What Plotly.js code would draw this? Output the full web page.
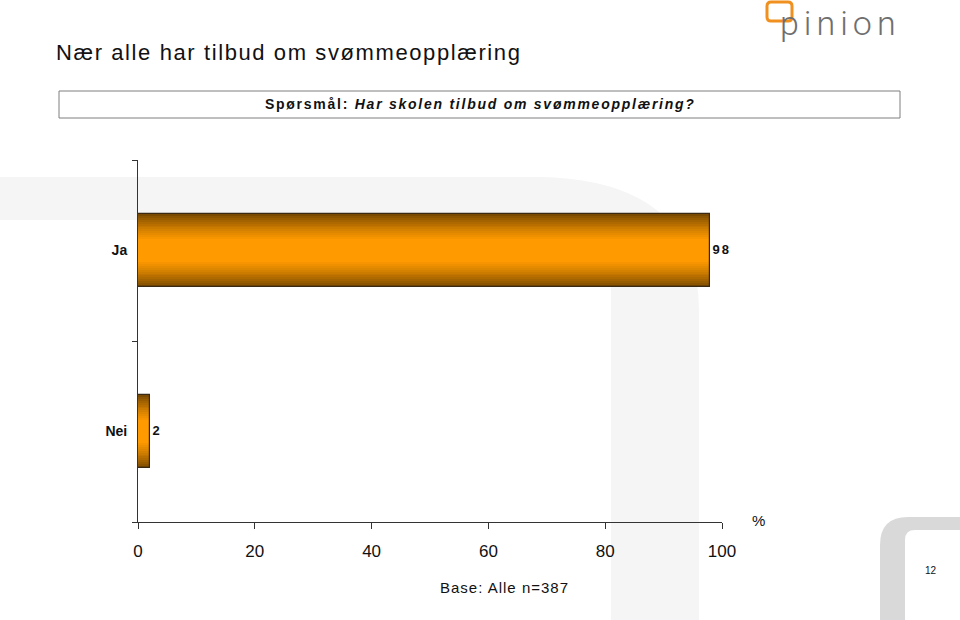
<!DOCTYPE html>
<html>
<head>
<meta charset="utf-8">
<script src="https://cdn.plot.ly/plotly-3.0.1.min.js"></script>
<style>
  html, body { margin: 0; padding: 0; background: #fff; overflow: hidden; }
  #chart { width: 960px; height: 620px; }
  g.annotation[data-index="0"] text { letter-spacing: 1.6px; }
  g.annotation[data-index="1"] text { letter-spacing: 1.75px; }
  g.annotation[data-index="3"] text { letter-spacing: 1.0px; }
  g.annotation[data-index="5"] text { letter-spacing: 5px; }
  .bartext { letter-spacing: 2px; }
</style>
</head>
<body>
<div id="chart"></div>
<script>
// ---- data ----
const categories = ["Ja", "Nei"];
const values = [98, 2];
const valueLabels = ["98", "2"];
const xTicks = [0, 20, 40, 60, 80, 100];
const xTickLabels = ["0", "20", "40", "60", "80", "100"];
const categoryOrder = ["Nei", "Ja"];

const titleText = "Nær alle har tilbud om svømmeopplæring";
const questionText = "<b>Spørsmål:</b> <b><i>Har skolen tilbud om svømmeopplæring?</i></b>";
const baseText = "Base: Alle n=387";
const unitText = "%";
const pageText = "12";

const FONT = "Liberation Sans, Arial, sans-serif";

// ---- layout geometry (pixels) ----
const W = 960, H = 620;
const L = 138, R = 722, T = 160, B = 522;
const pw = R - L, ph = B - T;
const px = x => (x - L) / pw;
const py = y => (B - y) / ph;

function pathFrom(cmds) {
  return cmds.map(c => {
    const op = c[0];
    const nums = c.slice(1);
    const out = [];
    for (let i = 0; i < nums.length; i += 2) {
      out.push(px(nums[i]).toFixed(5) + "," + py(nums[i + 1]).toFixed(5));
    }
    return op + " " + out.join(" ");
  }).join(" ") + " Z";
}

// ---- bar gradient layers ----
const barWidth = 0.4;
const edgeColor = [122, 74, 0];
const centerColor = [255, 154, 0];
const nLayers = 14;
const innerWidth = 0.13;
const traces = [];
for (let i = 0; i < nLayers; i++) {
  const t = i / (nLayers - 1);
  const w = barWidth - (barWidth - innerWidth) * t;
  const c = edgeColor.map((e, k) => Math.round(e + (centerColor[k] - e) * Math.pow(t, 0.8)));
  traces.push({
    type: "bar",
    orientation: "h",
    y: categories,
    x: values,
    width: w,
    marker: { color: "rgb(" + c.join(",") + ")", line: { width: 0 } },
    hoverinfo: "skip",
    showlegend: false
  });
}
// outline + labels
traces.push({
  type: "bar",
  orientation: "h",
  y: categories,
  x: values,
  width: barWidth,
  marker: { color: "rgba(0,0,0,0)", line: { width: 1.2, color: "#3a2a14" } },
  text: valueLabels,
  textposition: "outside",
  cliponaxis: false,
  textfont: { family: FONT, size: 13, color: "#111", weight: "bold" },
  hoverinfo: "skip",
  showlegend: false
});

// ---- shapes ----
const shapes = [
  {
    type: "path", xref: "paper", yref: "paper", layer: "below",
    path: pathFrom([["M", 0, 177], ["L", 540, 177], ["Q", 698, 180, 699, 310], ["L", 699, 620],
                    ["L", 611, 620], ["L", 611, 292], ["Q", 610, 222, 545, 220], ["L", 0, 220]]),
    fillcolor: "#f5f5f5", line: { width: 0 }
  },
  {
    type: "path", xref: "paper", yref: "paper", layer: "below",
    path: pathFrom([["M", 880, 620], ["L", 880, 545], ["Q", 880, 517, 908, 517], ["L", 960, 517],
                    ["L", 960, 530], ["L", 915, 530], ["Q", 905, 530, 905, 540], ["L", 905, 620]]),
    fillcolor: "#d9d9d9", line: { width: 0 }
  },
  {
    type: "rect", xref: "paper", yref: "paper",
    x0: px(59), x1: px(900), y0: py(91), y1: py(118),
    line: { color: "#7f7f7f", width: 1 }, fillcolor: "rgba(0,0,0,0)"
  },
  {
    type: "path", xref: "paper", yref: "paper",
    path: pathFrom([["M", 771, 2], ["L", 788, 2], ["Q", 792, 2, 792, 6], ["L", 792, 17], ["Q", 792, 21, 788, 21],
                    ["L", 771, 21], ["Q", 767, 21, 767, 17], ["L", 767, 6], ["Q", 767, 2, 771, 2]]),
    fillcolor: "rgba(0,0,0,0)", line: { color: "#f0901e", width: 3 }
  }
];

// ---- annotations ----
const ann = (text, x, y, size, opts) => Object.assign({
  text: text, xref: "paper", yref: "paper", x: px(x), y: py(y),
  showarrow: false, xanchor: "left", yanchor: "middle", align: "left",
  font: { family: FONT, size: size, color: "#111" }
}, opts || {});

const annotations = [
  ann(titleText, 54, 52, 22),
  ann(questionText, 480, 104, 14, { xanchor: "center", align: "center" }),
  ann(unitText, 750, 520, 15),
  ann(baseText, 438, 587, 15),
  ann(pageText, 923, 570, 10),
  ann("pinion", 778, 23, 34, { font: { family: "Roboto, Liberation Sans, sans-serif", size: 34, color: "#6f6f6f", weight: 300 } })
];

const layout = {
  width: W, height: H,
  margin: { l: L, r: W - R, t: T, b: H - B, pad: 0 },
  paper_bgcolor: "#ffffff",
  plot_bgcolor: "rgba(0,0,0,0)",
  barmode: "overlay",
  bargap: 0,
  showlegend: false,
  xaxis: {
    range: [0, 100],
    tickmode: "array", tickvals: xTicks, ticktext: xTickLabels,
    showline: true, linecolor: "#333", linewidth: 1,
    ticks: "outside", ticklen: 6, tickcolor: "#333", tickwidth: 1,
    ticklabelstandoff: 8,
    showgrid: false, zeroline: false,
    tickfont: { family: FONT, size: 17, color: "#111" },
    fixedrange: true
  },
  yaxis: {
    type: "category",
    categoryorder: "array", categoryarray: categoryOrder,
    range: [-0.5, 1.5],
    tickson: "boundaries",
    showline: true, linecolor: "#333", linewidth: 1,
    ticks: "outside", ticklen: 5, tickcolor: "#333", tickwidth: 1,
    ticklabelstandoff: 7,
    showgrid: false, zeroline: false,
    tickfont: { family: FONT, size: 14, color: "#111", weight: "bold" },
    fixedrange: true
  },
  shapes: shapes,
  annotations: annotations
};

Plotly.newPlot("chart", traces, layout, { displayModeBar: false });
</script>
</body>
</html>
